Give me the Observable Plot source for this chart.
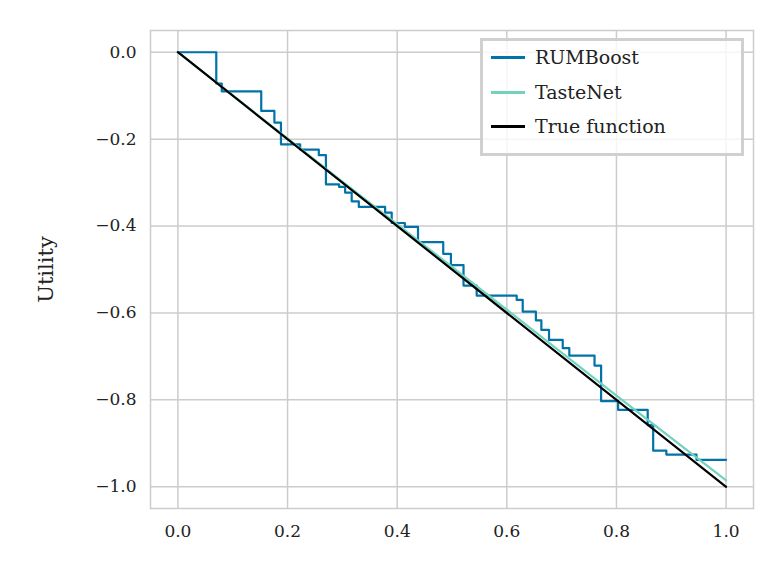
<!DOCTYPE html>
<html><head><meta charset="utf-8">
<script src="https://cdn.jsdelivr.net/npm/d3@7"></script>
<script src="https://cdn.jsdelivr.net/npm/@observablehq/plot@0.6"></script>
<style>
body{margin:0;background:#fff;font-family:"DejaVu Serif",serif}
#wrap{position:relative;width:783px;height:588px}
#chart svg text{font-size:17px;fill:#222}
#legend{position:absolute;left:480px;top:38px;width:258px;height:112px;border:3px solid #d0d0d0;background:rgba(255,255,255,0.8);font-size:19px;color:#222}
#legend div{position:absolute;left:8px;display:flex;align-items:center}
#legend span.l{display:inline-block;width:34px;height:3px;margin-right:10px}
</style></head><body>
<div id="wrap"><div id="chart"></div>
<div id="legend">
<div style="top:5px"><span class="l" style="background:#0173a8"></span>RUMBoost</div>
<div style="top:40px"><span class="l" style="background:#6fd3be"></span>TasteNet</div>
<div style="top:74px"><span class="l" style="background:#000"></span>True function</div>
</div></div>
<script>
const rumX = [0,0.070,0.080,0.152,0.176,0.188,0.223,0.257,0.270,0.294,0.305,0.317,0.330,0.378,0.390,0.414,0.438,0.484,0.498,0.521,0.545,0.618,0.629,0.653,0.663,0.677,0.702,0.714,0.760,0.772,0.803,0.857,0.867,0.891,0.946,1.0];
const rumY = [0,-0.072,-0.090,-0.135,-0.162,-0.212,-0.224,-0.237,-0.304,-0.310,-0.323,-0.343,-0.356,-0.369,-0.393,-0.402,-0.437,-0.464,-0.490,-0.537,-0.560,-0.570,-0.597,-0.617,-0.639,-0.662,-0.681,-0.698,-0.721,-0.803,-0.823,-0.858,-0.917,-0.926,-0.938,-0.938];
const tasteX = [0,0.3,0.5,0.8,1.0];
const tasteY = [0,-0.298,-0.494,-0.79,-0.985];
const trueX = [0,1];
const trueY = [0,-1];
const xTicks = [0,0.2,0.4,0.6,0.8,1.0];
const yTicks = [0,-0.2,-0.4,-0.6,-0.8,-1.0];

const rum = rumX.map((x,i)=>({x, y: rumY[i]}));
const taste = tasteX.map((x,i)=>({x, y: tasteY[i]}));
const truth = trueX.map((x,i)=>({x, y: trueY[i]}));

const chart = Plot.plot({
  width: 783, height: 588,
  marginLeft: 150, marginRight: 30, marginTop: 30, marginBottom: 80,
  style: {fontFamily: "DejaVu Serif", color: "#222"},
  x: {domain: [-0.05, 1.05]},
  y: {domain: [-1.05, 0.05]},
  marks: [
    Plot.gridX({ticks: xTicks, stroke: "#cccccc", strokeOpacity: 1, strokeWidth: 1.5}),
    Plot.gridY({ticks: yTicks, stroke: "#cccccc", strokeOpacity: 1, strokeWidth: 1.5}),
    Plot.frame({stroke: "#cccccc", strokeWidth: 1.5}),
    Plot.line(rum, {x: "x", y: "y", curve: "step-after", stroke: "#0173a8", strokeWidth: 2.2}),
    Plot.line(taste, {x: "x", y: "y", stroke: "#6fd3be", strokeWidth: 2.2}),
    Plot.line(truth, {x: "x", y: "y", stroke: "#000", strokeWidth: 2.2}),
    Plot.axisX({ticks: xTicks, tickFormat: d3.format(".1f"), tickSize: 0, tickPadding: 16, label: null}),
    Plot.axisY({ticks: yTicks, tickFormat: d3.format(".1f"), tickSize: 0, tickPadding: 14, label: "Utility", labelAnchor: "center", labelArrow: false, labelOffset: 112})
  ]
});
d3.select("#chart").append(() => chart);
d3.select(chart).selectAll("[aria-label='y-axis label'] text").style("font-size","21px");
</script></body></html>
